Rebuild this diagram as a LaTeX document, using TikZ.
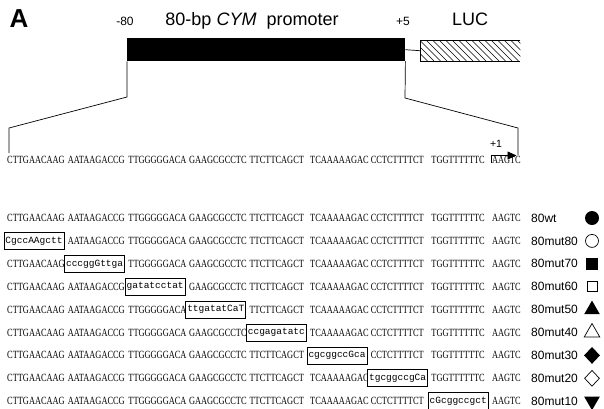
\documentclass[tikz,border=0pt]{standalone}
\usepackage{fontspec}
\usepackage{graphicx}
\setmainfont{Liberation Serif}
\setsansfont{Liberation Sans}
\setmonofont{Liberation Mono}
\usetikzlibrary{shapes, arrows.meta, positioning}

\def\wtgroups{CTTGAACAAG,AATAAGACCG,TTGGGGGACA,GAAGCGCCTC,TTCTTCAGCT,TCAAAAAGAC,CCTCTTTTCT,TGGTTTTTTC,AAGTC}
\newcommand\seqtxt[1]{\scalebox{0.76}[1]{#1}}

\tikzset{
  seq/.style={anchor=west, inner sep=0pt, font=\fontsize{11}{12}\selectfont},
  mutbox/.style={draw, line width=0.7pt, fill=white, inner xsep=1.5pt, inner ysep=0pt,
    minimum height=17pt, font=\ttfamily\fontsize{9.5}{10}\selectfont},
  lab/.style={anchor=west, inner sep=0pt, font=\sffamily\fontsize{12}{14}\selectfont},
  top/.style={anchor=base, inner sep=0pt, font=\sffamily\fontsize{18}{20}\selectfont},
  tick/.style={anchor=base, inner sep=0pt, font=\sffamily\fontsize{12}{14}\selectfont},
  fcirc/.style={circle, fill, minimum size=14pt, inner sep=0pt},
  ocirc/.style={circle, draw, line width=0.7pt, minimum size=13pt, inner sep=0pt},
  fsq/.style={rectangle, fill, minimum size=12pt, inner sep=0pt},
  osq/.style={rectangle, draw, line width=0.7pt, minimum size=10pt, inner sep=0pt},
  ftri/.style={regular polygon, regular polygon sides=3, fill, minimum size=18pt, inner sep=0pt},
  otri/.style={regular polygon, regular polygon sides=3, draw, line width=0.7pt, minimum size=18pt, inner sep=0pt},
  fdia/.style={diamond, fill, minimum width=16pt, minimum height=17pt, inner sep=0pt},
  odia/.style={diamond, draw, line width=0.7pt, minimum width=15pt, minimum height=16pt, inner sep=0pt},
  dtri/.style={regular polygon, regular polygon sides=3, shape border rotate=180, fill, minimum size=18pt, inner sep=0pt}
}

\begin{document}
\begin{tikzpicture}[x=1pt, y=-1pt]
  \useasboundingbox (0,0) rectangle (604,408);

  % construct
  \node[font=\sffamily\bfseries\fontsize{26}{28}\selectfont, inner sep=0pt] (panel) at (19,19) {A};
  \node[fill=black, minimum width=278pt, minimum height=23pt, inner sep=0pt, anchor=north west] (promo) at (127,38) {};
  \node[tick] (m80) at (125,25) {-80};
  \node[tick] (p5) at (403,25) {+5};
  \node[top] (ptitle) at (252,25) {80-bp \textit{CYM}\ \ promoter};
  \node[top] (luctitle) at (470,25) {LUC};
  \node[minimum width=100pt, minimum height=21pt, inner sep=0pt, anchor=north west] (luc) at (420,40) {};
  \begin{scope}
    \clip (luc.north west) rectangle (luc.south east);
    \foreach \x in {400,406.5,...,530}
      \draw[line width=0.6pt] (\x,40) -- ++(21,21);
  \end{scope}
  \draw[line width=0.7pt] (luc.north east) -- (luc.north west) -- (luc.south west) -- (luc.south east);
  \draw[line width=0.7pt] (promo.east) -- (luc.west);

  % zoom lines
  \coordinate (lk1) at (127,97);
  \coordinate (lk2) at (9,128);
  \coordinate (lk3) at (9,153);
  \coordinate (rk1) at (405,98);
  \coordinate (rk2) at (518,128);
  \coordinate (rk3) at (518,155);
  \draw[line width=0.7pt] (promo.south west) -- (lk1) -- (lk2) -- (lk3);
  \draw[line width=0.7pt] (promo.south east) -- (rk1) -- (rk2) -- (rk3);

  % top sequence
  \foreach \g [count=\i] in \wtgroups
    \node[seq] (top-\i) at ({7+60.6*(\i-1)},160) {\seqtxt{\g}};
  \coordinate (tss) at (491,163);
  \coordinate (tssup) at (491,155.5);
  \node[inner sep=0pt, font=\sffamily\fontsize{10.5}{12}\selectfont] (plus1) at (496,144) {+1};
  \draw[line width=0.7pt, -{Triangle[length=9pt, width=8pt]}] (tss) -- (tssup) -- ++(25.5,0);

  % mutant rows
  \foreach \name/\mut/\k/\sym [count=\r from 0] in {
      80wt//0/fcirc, 80mut80/CgccAAgctt/1/ocirc, 80mut70/cccggGttga/2/fsq,
      80mut60/gatatcctat/3/osq, 80mut50/ttgatatCaT/4/ftri, 80mut40/ccgagatatc/5/otri,
      80mut30/cgcggccGca/6/fdia, 80mut20/tgcggccgCa/7/odia, 80mut10/cGcggccgct/8/dtri} {
    \foreach \g [count=\i] in \wtgroups {
      \ifnum\i=\k\relax\else
        \node[seq] (r\r-\i) at ({7+60.6*(\i-1)},{218+22.9*\r}) {\seqtxt{\g}};
      \fi
    }
    \node[lab] (lab\r) at (531,{218+22.9*\r}) {\name};
    \node[\sym] (sym\r) at (592,{218+22.9*\r}) {};
    \ifnum\k>0 \node[mutbox] (box\r) at ({34+60.6*(\k-1)},{218+22.9*\r}) {\mut}; \fi
  }
\end{tikzpicture}
\end{document}
